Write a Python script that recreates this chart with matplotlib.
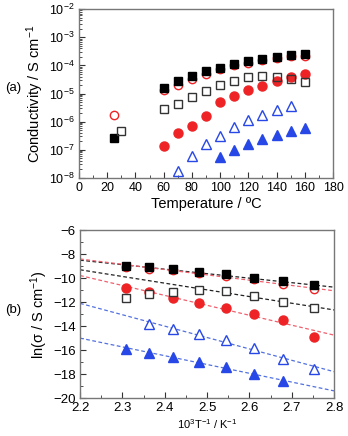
import numpy as np
import matplotlib
matplotlib.use("Agg")
import matplotlib.pyplot as plt
from matplotlib.ticker import MultipleLocator, LogLocator, NullFormatter

plt.rcParams["font.family"] = ["Liberation Sans", "DejaVu Sans"]
plt.rcParams["mathtext.fontset"] = "custom"
plt.rcParams["mathtext.rm"] = "Liberation Sans"
plt.rcParams["mathtext.it"] = "Liberation Sans:italic"

# (a) conductivity vs temperature (log10 of S/cm)
temp_main = [60, 70, 80, 90, 100, 110, 120, 130, 140, 150, 160]
black_filled_t = [25] + temp_main
black_filled = [-6.57, -4.80, -4.56, -4.38, -4.20, -4.08, -3.94, -3.85, -3.76, -3.70, -3.64, -3.61]
red_open_t = [25] + temp_main
red_open = [-5.75, -4.86, -4.68, -4.50, -4.30, -4.14, -4.00, -3.90, -3.80, -3.74, -3.68, -3.65]
black_open_t = [30] + temp_main
black_open = [-6.35, -5.55, -5.36, -5.13, -4.92, -4.71, -4.54, -4.40, -4.38, -4.42, -4.50, -4.60]
red_filled_t = temp_main
red_filled = [-6.86, -6.40, -6.14, -5.81, -5.31, -5.10, -4.88, -4.74, -4.56, -4.42, -4.30]
blue_open_t = [70, 80, 90, 100, 110, 120, 130, 140, 150]
blue_open = [-7.74, -7.21, -6.79, -6.50, -6.19, -5.93, -5.75, -5.57, -5.43]
blue_filled_t = [100, 110, 120, 130, 140, 150, 160]
blue_filled = [-7.24, -7.00, -6.79, -6.62, -6.48, -6.35, -6.23]

# (b) Arrhenius plot, ln(sigma) vs 1000/T
temp_b = [160, 150, 140, 130, 120, 110, 100, 90]
ln_black_filled = [-8.99, -9.10, -9.27, -9.47, -9.69, -9.96, -10.24, -10.57]
ln_red_open = [-9.05, -9.20, -9.35, -9.55, -9.80, -10.10, -10.49, -10.93]
ln_black_open = [-11.63, -11.32, -11.13, -10.99, -11.07, -11.49, -11.96, -12.52]
ln_red_filled = [-10.85, -11.13, -11.63, -12.10, -12.52, -12.99, -13.49, -14.93]
temp_b_blue_open = [150, 140, 130, 120, 110, 100, 90]
ln_blue_open = [-13.85, -14.26, -14.68, -15.15, -15.84, -16.76, -17.56]
temp_b_blue_filled = [160, 150, 140, 130, 120, 110, 100]
ln_blue_filled = [-15.93, -16.26, -16.54, -16.96, -17.43, -18.00, -18.61]

# fitted dashed lines: ln value at x = 2.2 and x = 2.8
fit_x = [2.2, 2.8]
fit_black_hi = [-8.50, -10.75]
fit_red_hi = [-8.40, -11.05]
fit_black_lo = [-9.30, -12.65]
fit_red_lo = [-9.78, -14.75]
fit_blue_hi = [-12.10, -17.80]
fit_blue_lo = [-15.00, -19.40]

RED = "#ee2326"
BLUE = "#2747e6"
RED_LINE = "#f0606e"
BLUE_LINE = "#5271e0"
FRAME = "#777777"


def inv_t(temps):
    return [1000.0 / (t + 273.15) for t in temps]


def style_axes(ax, labelsize):
    for s in ax.spines.values():
        s.set_color(FRAME)
        s.set_linewidth(1.0)
    ax.tick_params(which="both", direction="in", top=False, right=False,
                   color="#333333", labelsize=labelsize, pad=3)
    ax.tick_params(which="major", length=4)
    ax.tick_params(which="minor", length=2)


fig = plt.figure(figsize=(3.48, 4.36), dpi=100)
ax1 = fig.add_axes([0.227, 0.592, 0.730, 0.387])
ax2 = fig.add_axes([0.230, 0.087, 0.730, 0.385])

ms = 6
ax1.plot(red_open_t, 10 ** np.array(red_open), "o", ms=ms, mfc="white", mec=RED, mew=1.0, zorder=3)
ax1.plot(black_filled_t, 10 ** np.array(black_filled), "s", ms=ms, mfc="black", mec="black", zorder=4)
ax1.plot(black_open_t, 10 ** np.array(black_open), "s", ms=ms, mfc="none", mec="#333333", mew=1.0, zorder=4)
ax1.plot(red_filled_t, 10 ** np.array(red_filled), "o", ms=ms + 0.5, mfc=RED, mec=RED, zorder=3)
ax1.plot(blue_open_t, 10 ** np.array(blue_open), "^", ms=ms + 1, mfc="none", mec=BLUE, mew=1.0, zorder=3)
ax1.plot(blue_filled_t, 10 ** np.array(blue_filled), "^", ms=ms + 1, mfc=BLUE, mec=BLUE, zorder=3)

ax1.set_yscale("log")
ax1.set_ylim(1e-8, 1e-2)
ax1.set_xlim(0, 180)
ax1.xaxis.set_major_locator(MultipleLocator(20))
ax1.xaxis.set_minor_locator(MultipleLocator(10))
ax1.yaxis.set_major_locator(LogLocator(base=10, numticks=10))
ax1.yaxis.set_minor_locator(LogLocator(base=10, subs=np.arange(2, 10), numticks=10))
ax1.yaxis.set_minor_formatter(NullFormatter())
style_axes(ax1, 9)
ax1.set_xlabel("Temperature / ºC", fontsize=10.5, labelpad=2)
ax1.set_ylabel("Conductivity / S cm$^{-1}$", fontsize=10.5, labelpad=2)

x_bf = inv_t(temp_b)
for fy, col in [(fit_black_hi, "#222222"), (fit_red_hi, RED_LINE), (fit_black_lo, "#222222"),
                (fit_red_lo, RED_LINE), (fit_blue_hi, BLUE_LINE), (fit_blue_lo, BLUE_LINE)]:
    ax2.plot(fit_x, fy, ls=(0, (3, 2)), color=col, lw=0.9, zorder=2)

ax2.plot(x_bf, ln_red_open, "o", ms=ms, mfc="white", mec=RED, mew=1.0, zorder=3)
ax2.plot(x_bf, ln_black_filled, "s", ms=ms, mfc="black", mec="black", zorder=4)
ax2.plot(x_bf, ln_red_filled, "o", ms=ms + 0.5, mfc=RED, mec=RED, zorder=3)
ax2.plot(x_bf, ln_black_open, "s", ms=ms, mfc="white", mec="#333333", mew=1.0, zorder=4)
ax2.plot(inv_t(temp_b_blue_open), ln_blue_open, "^", ms=ms + 1, mfc="white", mec=BLUE, mew=1.0, zorder=3)
ax2.plot(inv_t(temp_b_blue_filled), ln_blue_filled, "^", ms=ms + 1, mfc=BLUE, mec=BLUE, zorder=3)

ax2.set_xlim(2.2, 2.8)
ax2.set_ylim(-20, -6)
ax2.xaxis.set_major_locator(MultipleLocator(0.1))
ax2.xaxis.set_minor_locator(MultipleLocator(0.05))
ax2.yaxis.set_major_locator(MultipleLocator(2))
ax2.yaxis.set_minor_locator(MultipleLocator(1))
style_axes(ax2, 9.5)
ax2.set_xlabel("10$^{3}$T$^{-1}$ / K$^{-1}$", fontsize=8, labelpad=2)
ax2.set_ylabel("ln(σ / S cm$^{-1}$)", fontsize=10.5, labelpad=2)

fig.text(0.015, 0.798, "(a)", fontsize=9.5, va="center")
fig.text(0.015, 0.289, "(b)", fontsize=9.5, va="center")

fig.savefig("out.png", dpi=100)
